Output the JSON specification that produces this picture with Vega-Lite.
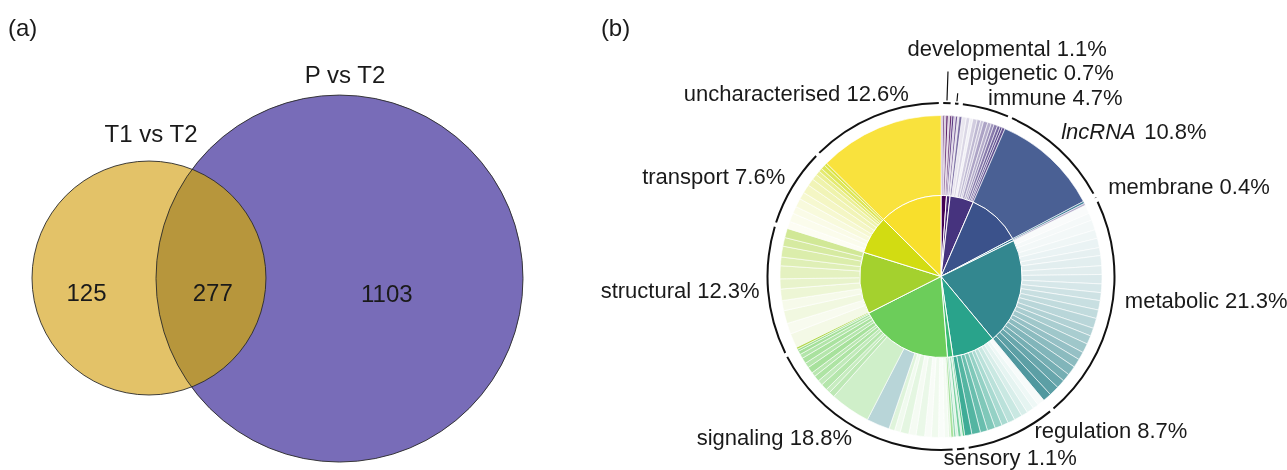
{
  "$schema": "https://vega.github.io/schema/vega-lite/v6.json",
  "background": "white",
  "padding": 0,
  "spacing": 0,
  "bounds": "flush",
  "config": {
    "view": {"stroke": null},
    "font": "Liberation Sans",
    "text": {"font": "Liberation Sans", "color": "#1a1a1a"}
  },
  "datasets": {
    "sets": [
      {"set": "P vs T2", "x": 57.06, "y": 32.18, "r": 30.84},
      {"set": "T1 vs T2", "x": 25.04, "y": 32.27, "r": 19.66}
    ],
    "vennLabels": [
      {"text": "T1 vs T2", "x": 25.38, "y": 55.13},
      {"text": "P vs T2", "x": 57.98, "y": 65.13},
      {"text": "125", "x": 14.54, "y": 28.4},
      {"text": "277", "x": 35.75, "y": 28.4},
      {"text": "1103", "x": 65.01, "y": 28.24}
    ],
    "genes": [
      {"cat": "developmental", "cls": "developmental", "n": 3, "o": 0.3},
      {"cat": "developmental", "cls": "developmental", "n": 2, "o": 1},
      {"cat": "developmental", "cls": "developmental", "n": 2, "o": 0.4},
      {"cat": "developmental", "cls": "developmental", "n": 3, "o": 0.9},
      {"cat": "developmental", "cls": "developmental", "n": 2, "o": 0.25},
      {"cat": "developmental", "cls": "developmental", "n": 3, "o": 0.8},
      {"cat": "epigenetic", "cls": "epigenetic", "n": 3, "o": 0.9},
      {"cat": "epigenetic", "cls": "epigenetic", "n": 2, "o": 0.35},
      {"cat": "epigenetic", "cls": "epigenetic", "n": 3, "o": 0.75},
      {"cat": "epigenetic", "cls": "epigenetic", "n": 2, "o": 0.2},
      {"cat": "immune", "cls": "immune", "n": 4, "o": 0.7},
      {"cat": "immune", "cls": "immune", "n": 6, "o": 0.12},
      {"cat": "immune", "cls": "immune", "n": 5, "o": 0.2},
      {"cat": "immune", "cls": "immune", "n": 4, "o": 0.08},
      {"cat": "immune", "cls": "immune", "n": 6, "o": 0.25},
      {"cat": "immune", "cls": "immune", "n": 5, "o": 0.35},
      {"cat": "immune", "cls": "immune", "n": 4, "o": 0.3},
      {"cat": "immune", "cls": "immune", "n": 6, "o": 0.45},
      {"cat": "immune", "cls": "immune", "n": 5, "o": 0.4},
      {"cat": "immune", "cls": "immune", "n": 4, "o": 0.55},
      {"cat": "immune", "cls": "immune", "n": 5, "o": 0.65},
      {"cat": "immune", "cls": "immune", "n": 4, "o": 0.75},
      {"cat": "immune", "cls": "immune", "n": 3, "o": 0.9},
      {"cat": "immune", "cls": "immune", "n": 4, "o": 0.85},
      {"cat": "lncRNA", "cls": "lncRNA", "n": 149, "o": 0.92},
      {"cat": "membrane", "cls": "membrane", "n": 3, "o": 0.9},
      {"cat": "membrane", "cls": "immune", "n": 3, "o": 0.4},
      {"cat": "metabolic", "cls": "metabolic", "n": 12, "o": 0.03},
      {"cat": "metabolic", "cls": "metabolic", "n": 10, "o": 0.05},
      {"cat": "metabolic", "cls": "metabolic", "n": 14, "o": 0.06},
      {"cat": "metabolic", "cls": "metabolic", "n": 12, "o": 0.08},
      {"cat": "metabolic", "cls": "metabolic", "n": 13, "o": 0.1},
      {"cat": "metabolic", "cls": "metabolic", "n": 11, "o": 0.12},
      {"cat": "metabolic", "cls": "metabolic", "n": 14, "o": 0.14},
      {"cat": "metabolic", "cls": "metabolic", "n": 12, "o": 0.15},
      {"cat": "metabolic", "cls": "metabolic", "n": 13, "o": 0.18},
      {"cat": "metabolic", "cls": "metabolic", "n": 12, "o": 0.2},
      {"cat": "metabolic", "cls": "metabolic", "n": 11, "o": 0.24},
      {"cat": "metabolic", "cls": "metabolic", "n": 13, "o": 0.27},
      {"cat": "metabolic", "cls": "metabolic", "n": 12, "o": 0.3},
      {"cat": "metabolic", "cls": "metabolic", "n": 14, "o": 0.34},
      {"cat": "metabolic", "cls": "metabolic", "n": 11, "o": 0.38},
      {"cat": "metabolic", "cls": "metabolic", "n": 12, "o": 0.42},
      {"cat": "metabolic", "cls": "metabolic", "n": 13, "o": 0.47},
      {"cat": "metabolic", "cls": "metabolic", "n": 11, "o": 0.52},
      {"cat": "metabolic", "cls": "metabolic", "n": 12, "o": 0.57},
      {"cat": "metabolic", "cls": "metabolic", "n": 13, "o": 0.62},
      {"cat": "metabolic", "cls": "metabolic", "n": 11, "o": 0.68},
      {"cat": "metabolic", "cls": "metabolic", "n": 12, "o": 0.74},
      {"cat": "metabolic", "cls": "metabolic", "n": 14, "o": 0.8},
      {"cat": "metabolic", "cls": "metabolic", "n": 12, "o": 0.86},
      {"cat": "regulation", "cls": "regulation", "n": 10, "o": 0.04},
      {"cat": "regulation", "cls": "regulation", "n": 8, "o": 0.08},
      {"cat": "regulation", "cls": "regulation", "n": 10, "o": 0.12},
      {"cat": "regulation", "cls": "regulation", "n": 9, "o": 0.18},
      {"cat": "regulation", "cls": "regulation", "n": 11, "o": 0.25},
      {"cat": "regulation", "cls": "regulation", "n": 10, "o": 0.32},
      {"cat": "regulation", "cls": "regulation", "n": 9, "o": 0.4},
      {"cat": "regulation", "cls": "regulation", "n": 10, "o": 0.5},
      {"cat": "regulation", "cls": "regulation", "n": 11, "o": 0.6},
      {"cat": "regulation", "cls": "regulation", "n": 10, "o": 0.7},
      {"cat": "regulation", "cls": "regulation", "n": 12, "o": 0.8},
      {"cat": "regulation", "cls": "regulation", "n": 10, "o": 0.9},
      {"cat": "sensory", "cls": "sensory", "n": 3, "o": 0.9},
      {"cat": "sensory", "cls": "sensory", "n": 2, "o": 0.3},
      {"cat": "sensory", "cls": "sensory", "n": 4, "o": 0.7},
      {"cat": "sensory", "cls": "sensory", "n": 3, "o": 0.2},
      {"cat": "sensory", "cls": "sensory", "n": 3, "o": 0.6},
      {"cat": "signaling", "cls": "signaling", "n": 4, "o": 0.6},
      {"cat": "signaling", "cls": "signaling", "n": 3, "o": 0.2},
      {"cat": "signaling", "cls": "signaling", "n": 6, "o": 0.08},
      {"cat": "signaling", "cls": "signaling", "n": 8, "o": 0.04},
      {"cat": "signaling", "cls": "signaling", "n": 10, "o": 0.1},
      {"cat": "signaling", "cls": "signaling", "n": 9, "o": 0.05},
      {"cat": "signaling", "cls": "signaling", "n": 12, "o": 0.14},
      {"cat": "signaling", "cls": "signaling", "n": 10, "o": 0.07},
      {"cat": "signaling", "cls": "signaling", "n": 12, "o": 0.18},
      {"cat": "signaling", "cls": "signaling", "n": 8, "o": 0.1},
      {"cat": "signaling", "cls": "signaling", "n": 8, "o": 0.22},
      {"cat": "signaling", "cls": "metabolic", "n": 32, "o": 0.35},
      {"cat": "signaling", "cls": "signaling", "n": 56, "o": 0.33},
      {"cat": "signaling", "cls": "signaling", "n": 8, "o": 0.45},
      {"cat": "signaling", "cls": "signaling", "n": 6, "o": 0.38},
      {"cat": "signaling", "cls": "signaling", "n": 9, "o": 0.5},
      {"cat": "signaling", "cls": "signaling", "n": 7, "o": 0.42},
      {"cat": "signaling", "cls": "signaling", "n": 8, "o": 0.55},
      {"cat": "signaling", "cls": "signaling", "n": 6, "o": 0.48},
      {"cat": "signaling", "cls": "signaling", "n": 9, "o": 0.6},
      {"cat": "signaling", "cls": "signaling", "n": 7, "o": 0.5},
      {"cat": "signaling", "cls": "signaling", "n": 8, "o": 0.58},
      {"cat": "signaling", "cls": "signaling", "n": 6, "o": 0.52},
      {"cat": "signaling", "cls": "signaling", "n": 5, "o": 0.62},
      {"cat": "signaling", "cls": "signaling", "n": 3, "o": 0.7},
      {"cat": "structural", "cls": "structural", "n": 3, "o": 0.85},
      {"cat": "structural", "cls": "structural", "n": 20, "o": 0.12},
      {"cat": "structural", "cls": "structural", "n": 15, "o": 0.08},
      {"cat": "structural", "cls": "structural", "n": 18, "o": 0.15},
      {"cat": "structural", "cls": "structural", "n": 14, "o": 0.1},
      {"cat": "structural", "cls": "structural", "n": 16, "o": 0.2},
      {"cat": "structural", "cls": "structural", "n": 14, "o": 0.25},
      {"cat": "structural", "cls": "structural", "n": 18, "o": 0.3},
      {"cat": "structural", "cls": "structural", "n": 12, "o": 0.35},
      {"cat": "structural", "cls": "structural", "n": 15, "o": 0.4},
      {"cat": "structural", "cls": "structural", "n": 12, "o": 0.45},
      {"cat": "structural", "cls": "structural", "n": 13, "o": 0.5},
      {"cat": "transport", "cls": "transport", "n": 10, "o": 0.05},
      {"cat": "transport", "cls": "transport", "n": 12, "o": 0.08},
      {"cat": "transport", "cls": "transport", "n": 10, "o": 0.1},
      {"cat": "transport", "cls": "transport", "n": 12, "o": 0.15},
      {"cat": "transport", "cls": "transport", "n": 10, "o": 0.2},
      {"cat": "transport", "cls": "transport", "n": 12, "o": 0.25},
      {"cat": "transport", "cls": "transport", "n": 10, "o": 0.3},
      {"cat": "transport", "cls": "transport", "n": 8, "o": 0.35},
      {"cat": "transport", "cls": "transport", "n": 6, "o": 0.45},
      {"cat": "transport", "cls": "transport", "n": 5, "o": 0.6},
      {"cat": "transport", "cls": "transport", "n": 6, "o": 0.7},
      {"cat": "transport", "cls": "transport", "n": 4, "o": 0.8},
      {"cat": "uncharacterised", "cls": "uncharacterised", "n": 174, "o": 0.92}
    ]
  },
  "hconcat": [
    {
      "width": 595,
      "height": 470,
      "encoding": {
        "x": {"field": "x", "type": "quantitative", "scale": {"domain": [0, 100]}, "axis": null},
        "y": {"field": "y", "type": "quantitative", "scale": {"domain": [0, 79]}, "axis": null}
      },
      "layer": [
        {
          "data": {"name": "sets"},
          "mark": {"type": "point", "shape": "circle", "filled": true, "opacity": 1, "strokeWidth": 0},
          "encoding": {
            "size": {"field": "r", "type": "quantitative", "scale": {"type": "pow", "exponent": 2, "domain": [0, 100], "range": [0, 1416100]}, "legend": null},
            "color": {"field": "set", "type": "nominal", "scale": {"domain": ["T1 vs T2", "P vs T2"], "range": ["#E3C268", "#786CB8"]}, "legend": null}
          }
        },
        {
          "data": {"name": "sets"},
          "transform": [{"filter": "datum.set === 'P vs T2'"}],
          "mark": {"type": "point", "shape": "circle", "filled": true, "color": "#786CB8", "opacity": 0.6, "blend": "luminosity", "strokeWidth": 0},
          "encoding": {
            "size": {"field": "r", "type": "quantitative", "scale": {"type": "pow", "exponent": 2, "domain": [0, 100], "range": [0, 1416100]}, "legend": null}
          }
        },
        {
          "data": {"name": "sets"},
          "mark": {"type": "point", "shape": "circle", "filled": false, "stroke": "#2a2a2a", "strokeWidth": 0.9, "opacity": 1},
          "encoding": {
            "size": {"field": "r", "type": "quantitative", "scale": {"type": "pow", "exponent": 2, "domain": [0, 100], "range": [0, 1416100]}, "legend": null}
          }
        },
        {
          "data": {"name": "vennLabels"},
          "mark": {"type": "text", "fontSize": 24, "align": "center", "baseline": "alphabetic"},
          "encoding": {"text": {"field": "text"}}
        },
        {
          "data": {"values": [{"tag": "(a)", "x": 1.34, "y": 72.94}]},
          "mark": {"type": "text", "fontSize": 24, "align": "left", "baseline": "alphabetic"},
          "encoding": {"text": {"field": "tag"}}
        }
      ]
    },
    {
      "width": 692,
      "height": 470,
      "data": {"name": "genes"},
      "transform": [
        {"window": [{"op": "row_number", "as": "i"}]},
        {"joinaggregate": [{"op": "sum", "field": "n", "as": "total"}]},
        {"stack": "n", "groupby": [], "sort": [{"field": "i"}], "as": ["s0", "s1"]},
        {"calculate": "datum.s0 / datum.total", "as": "t0"},
        {"calculate": "datum.s1 / datum.total", "as": "t1"},
        {"joinaggregate": [{"op": "min", "field": "t0", "as": "c0"}, {"op": "max", "field": "t1", "as": "c1"}], "groupby": ["cat"]}
      ],
      "encoding": {
        "x": {"datum": 0, "type": "quantitative", "scale": {"domain": [-1, 1]}, "axis": null},
        "y": {"datum": 0, "type": "quantitative", "scale": {"domain": [-0.7, 1]}, "axis": null}
      },
      "layer": [
        {
          "mark": {"type": "arc", "radius": 161, "radius2": 81, "stroke": "white", "strokeWidth": 0.6},
          "encoding": {
            "theta": {"field": "t0", "type": "quantitative", "scale": {"domain": [0, 1]}, "stack": null},
            "theta2": {"field": "t1"},
            "fill": {"field": "cls", "type": "nominal", "legend": null,
              "scale": {"domain": ["developmental", "epigenetic", "immune", "lncRNA", "membrane", "metabolic", "regulation", "sensory", "signaling", "structural", "transport", "uncharacterised"],
                        "range": ["#440154", "#482475", "#46337e", "#3b528b", "#2c728e", "#33878f", "#29a38b", "#3cbb75", "#6ccd5a", "#a4d12e", "#d2dc12", "#f8df2c"]}},
            "fillOpacity": {"field": "o", "type": "quantitative", "scale": {"domain": [0, 1], "range": [0, 1]}, "legend": null}
          }
        },
        {
          "transform": [{"aggregate": [{"op": "count", "as": "genes"}], "groupby": ["cat", "c0", "c1"]}],
          "mark": {"type": "arc", "radius": 81, "radius2": 0, "stroke": "white", "strokeWidth": 1},
          "encoding": {
            "theta": {"field": "c0", "type": "quantitative", "scale": {"domain": [0, 1]}, "stack": null},
            "theta2": {"field": "c1"},
            "fill": {"field": "cat", "type": "nominal", "legend": null,
              "scale": {"domain": ["developmental", "epigenetic", "immune", "lncRNA", "membrane", "metabolic", "regulation", "sensory", "signaling", "structural", "transport", "uncharacterised"],
                        "range": ["#440154", "#482475", "#46337e", "#3b528b", "#2c728e", "#33878f", "#29a38b", "#3cbb75", "#6ccd5a", "#a4d12e", "#d2dc12", "#f8df2c"]}}
          }
        },
        {
          "transform": [{"aggregate": [{"op": "count", "as": "genes"}], "groupby": ["cat", "c0", "c1"]}],
          "mark": {"type": "arc", "radius": 174.5, "radius2": 172.5, "padAngle": 0.018, "color": "#111111"},
          "encoding": {
            "theta": {"field": "c0", "type": "quantitative", "scale": {"domain": [0, 1]}, "stack": null},
            "theta2": {"field": "c1"}
          }
        },
        {
          "transform": [
            {"aggregate": [{"op": "count", "as": "genes"}], "groupby": ["cat", "c0", "c1"]},
            {"filter": "datum.cat === 'developmental' || datum.cat === 'epigenetic'"},
            {"calculate": "(datum.c0 + datum.c1) / 2", "as": "mid"}
          ],
          "mark": {"type": "arc", "radius": {"expr": "datum.cat === 'developmental' ? 205 : 184"}, "radius2": 176, "stroke": "#111111", "strokeWidth": 1.2, "fillOpacity": 0},
          "encoding": {
            "theta": {"field": "mid", "type": "quantitative", "scale": {"domain": [0, 1]}, "stack": null},
            "theta2": {"field": "mid"}
          }
        },
        {
          "transform": [
            {"aggregate": [{"op": "count", "as": "genes"}], "groupby": ["cat", "c0", "c1"]},
            {"calculate": "(datum.c0 + datum.c1) / 2", "as": "mid"},
            {"calculate": "datum.cat + ' ' + format((datum.c1 - datum.c0) * 100, '.1f') + '%'", "as": "label"},
            {"calculate": "({'developmental': -40, 'epigenetic': -1, 'immune': -2, 'lncRNA': -9, 'membrane': -2, 'metabolic': -2, 'regulation': 16, 'sensory': -19, 'signaling': 4, 'structural': 8, 'transport': 7, 'uncharacterised': 41})[datum.cat]", "as": "nx"},
            {"calculate": "({'developmental': -31, 'epigenetic': -7, 'immune': 12, 'lncRNA': 2, 'membrane': 4, 'metabolic': -8, 'regulation': -12, 'sensory': 0, 'signaling': 3, 'structural': 6, 'transport': 6, 'uncharacterised': 0})[datum.cat]", "as": "ny"},
            {"filter": "datum.mid < 0.5 && datum.cat !== 'lncRNA'"}
          ],
          "mark": {"type": "text", "radius": 190, "align": "left", "baseline": "alphabetic", "fontSize": 22, "dx": {"expr": "datum.nx"}, "dy": {"expr": "datum.ny"}},
          "encoding": {
            "theta": {"field": "mid", "type": "quantitative", "scale": {"domain": [0, 1]}},
            "text": {"field": "label"}
          }
        },
        {
          "transform": [
            {"aggregate": [{"op": "count", "as": "genes"}], "groupby": ["cat", "c0", "c1"]},
            {"calculate": "(datum.c0 + datum.c1) / 2", "as": "mid"},
            {"calculate": "datum.cat + ' ' + format((datum.c1 - datum.c0) * 100, '.1f') + '%'", "as": "label"},
            {"calculate": "({'developmental': -40, 'epigenetic': -1, 'immune': -2, 'lncRNA': -9, 'membrane': -2, 'metabolic': -2, 'regulation': 16, 'sensory': -19, 'signaling': 4, 'structural': 8, 'transport': 7, 'uncharacterised': 41})[datum.cat]", "as": "nx"},
            {"calculate": "({'developmental': -31, 'epigenetic': -7, 'immune': 12, 'lncRNA': 2, 'membrane': 4, 'metabolic': -8, 'regulation': -12, 'sensory': 0, 'signaling': 3, 'structural': 6, 'transport': 6, 'uncharacterised': 0})[datum.cat]", "as": "ny"},
            {"filter": "datum.mid >= 0.5"}
          ],
          "mark": {"type": "text", "radius": 190, "align": "right", "baseline": "alphabetic", "fontSize": 22, "dx": {"expr": "datum.nx"}, "dy": {"expr": "datum.ny"}},
          "encoding": {
            "theta": {"field": "mid", "type": "quantitative", "scale": {"domain": [0, 1]}},
            "text": {"field": "label"}
          }
        },
        {
          "transform": [
            {"aggregate": [{"op": "count", "as": "genes"}], "groupby": ["cat", "c0", "c1"]},
            {"filter": "datum.cat === 'lncRNA'"},
            {"calculate": "(datum.c0 + datum.c1) / 2", "as": "mid"}
          ],
          "mark": {"type": "text", "radius": 190, "align": "left", "baseline": "alphabetic", "fontSize": 22, "fontStyle": "italic", "dx": -9, "dy": 2},
          "encoding": {
            "theta": {"field": "mid", "type": "quantitative", "scale": {"domain": [0, 1]}},
            "text": {"field": "cat"}
          }
        },
        {
          "transform": [
            {"aggregate": [{"op": "count", "as": "genes"}], "groupby": ["cat", "c0", "c1"]},
            {"filter": "datum.cat === 'lncRNA'"},
            {"calculate": "(datum.c0 + datum.c1) / 2", "as": "mid"},
            {"calculate": "format((datum.c1 - datum.c0) * 100, '.1f') + '%'", "as": "pct"}
          ],
          "mark": {"type": "text", "radius": 190, "align": "left", "baseline": "alphabetic", "fontSize": 22, "dx": 74, "dy": 2},
          "encoding": {
            "theta": {"field": "mid", "type": "quantitative", "scale": {"domain": [0, 1]}},
            "text": {"field": "pct"}
          }
        },
        {
          "data": {"values": [{"tag": "(b)"}]},
          "mark": {"type": "text", "fontSize": 24, "align": "left", "baseline": "alphabetic"},
          "encoding": {
            "x": {"datum": -0.983, "type": "quantitative"},
            "y": {"datum": 0.87, "type": "quantitative"},
            "text": {"field": "tag"}
          }
        }
      ]
    }
  ]
}
